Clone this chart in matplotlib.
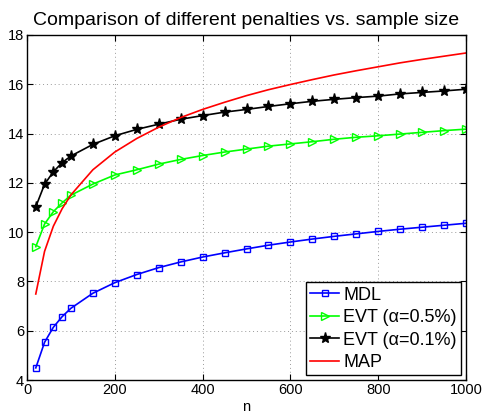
import matplotlib
matplotlib.use('Agg')
import matplotlib.pyplot as plt

matplotlib.rcParams['font.family'] = ['Liberation Sans', 'DejaVu Sans']

N = [20, 40, 60, 80, 100, 150, 200, 250, 300, 350, 400, 450, 500,
     550, 600, 650, 700, 750, 800, 850, 900, 950, 1000]

MDL = [4.49, 5.53, 6.14, 6.57, 6.91, 7.52, 7.95, 8.28, 8.56, 8.79, 8.99, 9.16,
       9.32, 9.47, 9.60, 9.72, 9.83, 9.93, 10.03, 10.12, 10.20, 10.28, 10.36]
EVT_05 = [9.41, 10.33, 10.83, 11.19, 11.50, 11.95, 12.32, 12.53, 12.76, 12.95,
          13.11, 13.25, 13.37, 13.49, 13.58, 13.67, 13.77, 13.85, 13.91, 13.98,
          14.05, 14.12, 14.18]
EVT_01 = [11.03, 11.94, 12.45, 12.82, 13.09, 13.56, 13.91, 14.17, 14.38, 14.58,
          14.73, 14.87, 14.98, 15.10, 15.21, 15.31, 15.39, 15.46, 15.52, 15.61,
          15.67, 15.73, 15.80]
MAP = [7.49, 9.22, 10.24, 10.95, 11.51, 12.53, 13.25, 13.80, 14.26, 14.65,
       14.98, 15.27, 15.54, 15.78, 15.99, 16.19, 16.38, 16.55, 16.71, 16.87,
       17.01, 17.14, 17.27]

fig = plt.figure(figsize=(4.84, 4.19), dpi=100)
ax = fig.add_axes([27 / 484, 39 / 419, 439 / 484, 345 / 419])

ax.plot(N, MDL, color='#0000FF', marker='s', markersize=5, markerfacecolor='none',
        markeredgewidth=1.0, linewidth=1.2, label='MDL')
ax.plot(N, EVT_05, color='#00FF00', marker='>', markersize=6, markerfacecolor='none',
        markeredgewidth=1.0, linewidth=1.2, label='EVT (α=0.5%)')
ax.plot(N, EVT_01, color='black', marker='*', markersize=8,
        linewidth=1.2, label='EVT (α=0.1%)')
ax.plot(N, MAP, color='#FF0000', linewidth=1.2, label='MAP')

ax.set_xlim(0, 1000)
ax.set_ylim(4, 18)
ax.set_xticks(range(0, 1001, 200))
ax.set_yticks(range(4, 19, 2))
ax.tick_params(direction='in', top=True, right=True, labelsize=10.5, length=4, pad=2)
ax.grid(True, linestyle=(0, (1, 3)), color='#999999', linewidth=0.7)
for s in ax.spines.values():
    s.set_linewidth(1.0)

ax.set_xlabel('n', fontsize=10.5, labelpad=2)
ax.set_title('Comparison of different penalties vs. sample size', fontsize=14, pad=7)

leg = ax.legend(loc='lower right', fontsize=13, fancybox=False, framealpha=1,
                edgecolor='black', borderaxespad=0.25, handlelength=1.6,
                handletextpad=0.25, labelspacing=0.3, borderpad=0.25)
leg.get_frame().set_linewidth(1.0)

fig.savefig('out.png', dpi=100)
